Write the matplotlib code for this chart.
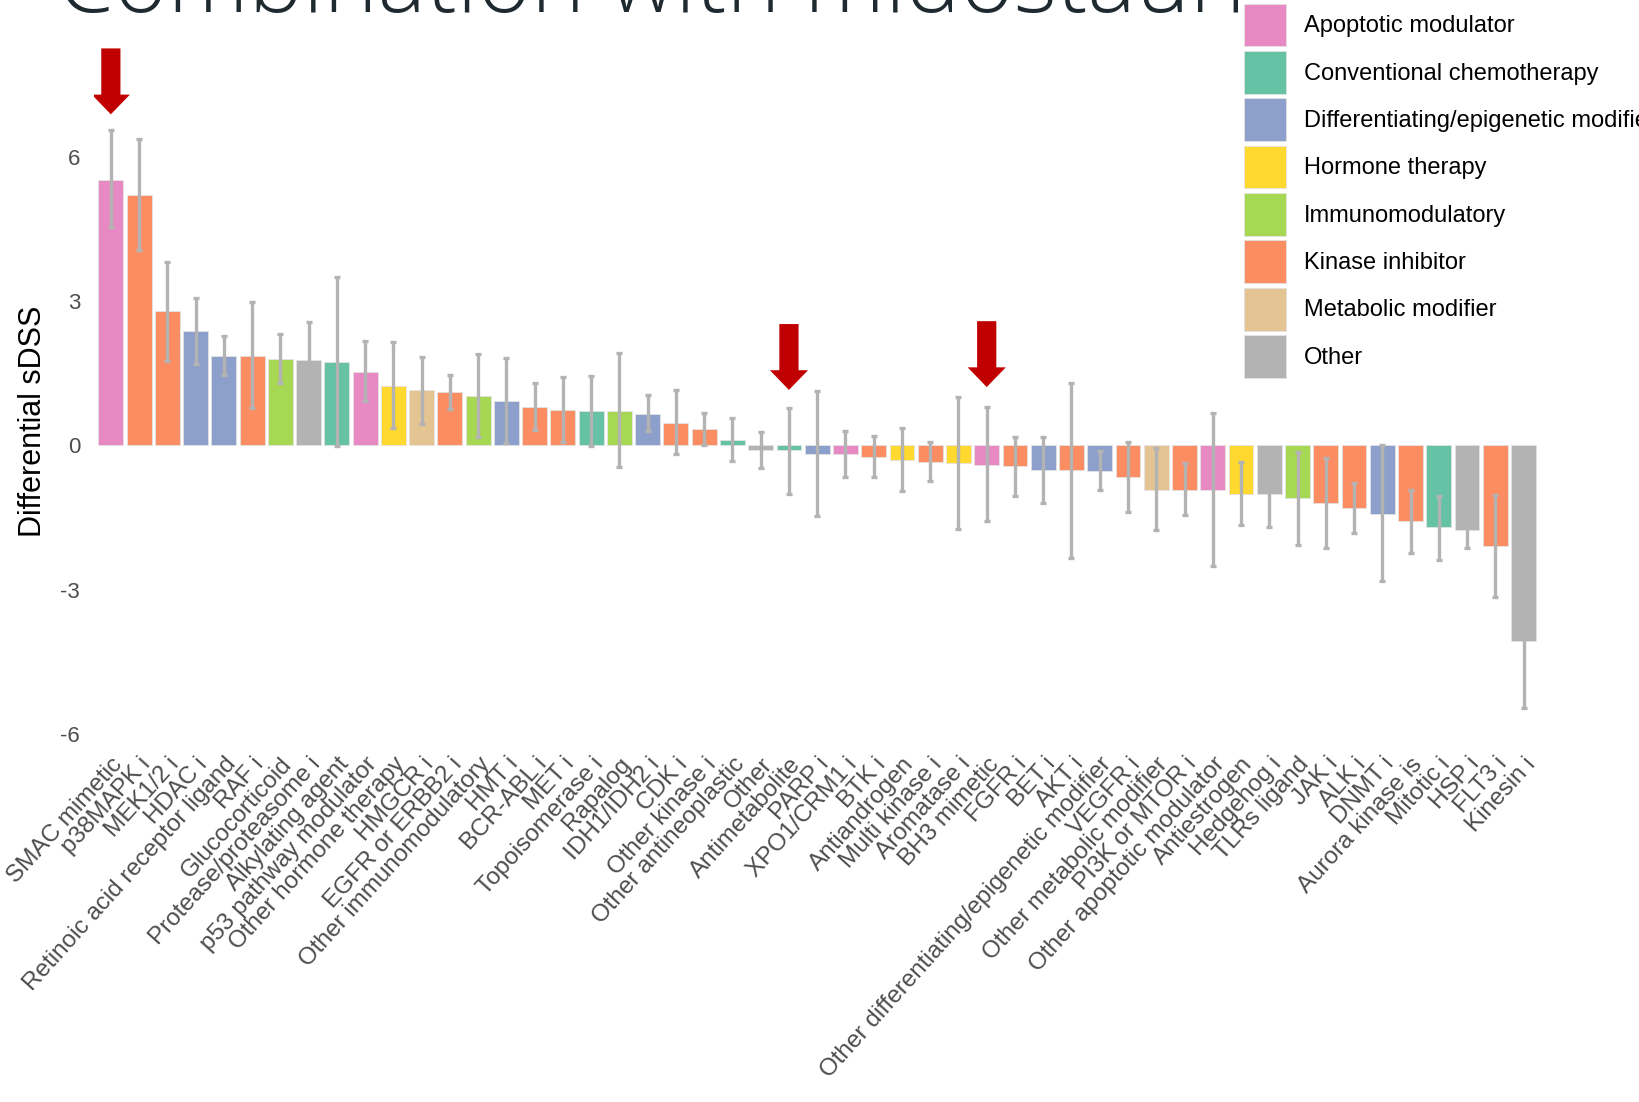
import numpy as np
import matplotlib
matplotlib.use("Agg")
import matplotlib.pyplot as plt
from matplotlib.patches import Patch, FancyArrow
from matplotlib.transforms import ScaledTranslation

# Drug classes, ordered by differential sDSS
drug_classes = [
    "SMAC mimetic", "p38MAPK i", "MEK1/2 i", "HDAC i", "Retinoic acid receptor ligand",
    "RAF i", "Glucocorticoid", "Protease/proteasome i", "Alkylating agent",
    "p53 pathway modulator", "Other hormone therapy", "HMGCR i", "EGFR or ERBB2 i",
    "Other immunomodulatory", "HMT i", "BCR-ABL i", "MET i", "Topoisomerase i", "Rapalog",
    "IDH1/IDH2 i", "CDK i", "Other kinase i", "Other antineoplastic", "Other",
    "Antimetabolite", "PARP i", "XPO1/CRM1 i", "BTK i", "Antiandrogen", "Multi kinase i",
    "Aromatase i", "BH3 mimetic", "FGFR i", "BET i", "AKT i",
    "Other differentiating/epigenetic modifier", "VEGFR i", "Other metabolic modifier",
    "PI3K or MTOR i", "Other apoptotic modulator", "Antiestrogen", "Hedgehog i",
    "TLRs ligand", "JAK i", "ALK i", "DNMT i", "Aurora kinase is", "Mitotic i", "HSP i",
    "FLT3 i", "Kinesin i",
]

mean_dss = [
    5.52, 5.21, 2.79, 2.38, 1.86, 1.86, 1.79, 1.77, 1.74, 1.52,
    1.24, 1.14, 1.10, 1.02, 0.92, 0.79, 0.73, 0.71, 0.71, 0.65,
    0.46, 0.33, 0.11, -0.10, -0.09, -0.18, -0.18, -0.24, -0.31, -0.35,
    -0.37, -0.40, -0.44, -0.52, -0.52, -0.53, -0.67, -0.92, -0.92, -0.92,
    -1.01, -1.02, -1.10, -1.19, -1.31, -1.42, -1.58, -1.70, -1.77, -2.09,
    -4.07,
]

err_low = [
    4.54, 4.05, 1.76, 1.68, 1.46, 0.77, 1.30, 0.98, -0.02, 0.91,
    0.35, 0.44, 0.75, 0.17, 0.05, 0.32, 0.07, -0.01, -0.45, 0.30,
    -0.19, 0.00, -0.33, -0.48, -1.01, -1.48, -0.65, -0.65, -0.96, -0.75,
    -1.74, -1.57, -1.05, -1.19, -2.34, -0.94, -1.39, -1.77, -1.46, -2.51,
    -1.65, -1.70, -2.07, -2.14, -1.83, -2.82, -2.24, -2.38, -2.13, -3.15,
    -5.47,
]

err_high = [
    6.55, 6.37, 3.82, 3.07, 2.28, 2.97, 2.31, 2.56, 3.50, 2.17,
    2.14, 1.84, 1.46, 1.90, 1.81, 1.29, 1.42, 1.43, 1.91, 1.04,
    1.14, 0.67, 0.56, 0.28, 0.78, 1.13, 0.29, 0.19, 0.36, 0.06,
    1.00, 0.80, 0.18, 0.18, 1.30, -0.12, 0.06, -0.05, -0.37, 0.68,
    -0.35, -0.34, -0.13, -0.26, -0.79, 0.00, -0.93, -1.05, -1.41, -1.04,
    -2.67,
]

mechanism = [
    "Apoptotic modulator", "Kinase inhibitor", "Kinase inhibitor",
    "Differentiating/epigenetic modifier", "Differentiating/epigenetic modifier",
    "Kinase inhibitor", "Immunomodulatory", "Other", "Conventional chemotherapy",
    "Apoptotic modulator", "Hormone therapy", "Metabolic modifier", "Kinase inhibitor",
    "Immunomodulatory", "Differentiating/epigenetic modifier", "Kinase inhibitor",
    "Kinase inhibitor", "Conventional chemotherapy", "Immunomodulatory",
    "Differentiating/epigenetic modifier", "Kinase inhibitor", "Kinase inhibitor",
    "Conventional chemotherapy", "Other", "Conventional chemotherapy",
    "Differentiating/epigenetic modifier", "Apoptotic modulator", "Kinase inhibitor",
    "Hormone therapy", "Kinase inhibitor", "Hormone therapy", "Apoptotic modulator",
    "Kinase inhibitor", "Differentiating/epigenetic modifier", "Kinase inhibitor",
    "Differentiating/epigenetic modifier", "Kinase inhibitor", "Metabolic modifier",
    "Kinase inhibitor", "Apoptotic modulator", "Hormone therapy", "Other",
    "Immunomodulatory", "Kinase inhibitor", "Kinase inhibitor",
    "Differentiating/epigenetic modifier", "Kinase inhibitor", "Conventional chemotherapy",
    "Other", "Kinase inhibitor", "Other",
]

mechanism_colors = {
    "Apoptotic modulator": "#E78AC3",
    "Conventional chemotherapy": "#66C2A5",
    "Differentiating/epigenetic modifier": "#8DA0CB",
    "Hormone therapy": "#FFD92F",
    "Immunomodulatory": "#A6D854",
    "Kinase inhibitor": "#FC8D62",
    "Metabolic modifier": "#E5C494",
    "Other": "#B3B3B3",
}

# highlighted classes: arrow tip and tail in sDSS units
highlight = ["SMAC mimetic", "Antimetabolite", "BH3 mimetic"]
arrow_tip = [6.88, 1.15, 1.21]
arrow_tail = [8.25, 2.52, 2.58]

W, H = 1639, 1102
fig = plt.figure(figsize=(W / 100, H / 100), dpi=100)
fig.patch.set_facecolor("white")

# panel placed in pixel units
left_px, right_px, top_px, bottom_px = 93.9, 1540.5, 36.4, 743.5
ax = fig.add_axes([left_px / W, 1 - bottom_px / H,
                   (right_px - left_px) / W, (bottom_px - top_px) / H])

x = np.arange(len(drug_classes))
colors = [mechanism_colors[m] for m in mechanism]
mean = np.array(mean_dss)
lo = np.array(err_low)
hi = np.array(err_high)

ax.bar(x, mean, width=0.88, color=colors, edgecolor="#e3e3e3", linewidth=0.6, zorder=2)
ax.errorbar(x, mean, yerr=[mean - lo, hi - mean], fmt="none", ecolor="#b3b3b3",
            elinewidth=2.4, capsize=2.0, capthick=2.4, zorder=3)

for name, tip, tail in zip(highlight, arrow_tip, arrow_tail):
    xi = drug_classes.index(name)
    ax.add_patch(FancyArrow(xi, tail, 0, tip - tail, width=0.68, head_width=1.35,
                            head_length=0.41, length_includes_head=True,
                            color="#C00000", linewidth=0, zorder=4))

ax.set_xlim(-0.6, len(drug_classes) - 0.4)
ax.set_ylim(-6.2, 8.5)
ax.set_yticks([-6, -3, 0, 3, 6])
ax.set_yticklabels(["-6", "-3", "0", "3", "6"])
ax.set_xticks(x)
ax.set_xticklabels(drug_classes, rotation=48, ha="right", va="top",
                   rotation_mode="anchor", fontsize=17.5, color="#4d4d4d",
                   family="Liberation Sans")
shift = ScaledTranslation(22 / 100, 0, fig.dpi_scale_trans)
for lab in ax.get_xticklabels():
    lab.set_transform(lab.get_transform() + shift)

ax.tick_params(axis="both", length=0)
ax.tick_params(axis="x", pad=7)
ax.tick_params(axis="y", pad=10, labelsize=16, labelcolor="#4d4d4d")
for lab in ax.get_yticklabels():
    lab.set_family("Liberation Sans")
for s in ax.spines.values():
    s.set_visible(False)
ax.grid(False)

ax.set_ylabel("Differential sDSS", fontsize=22, family="Liberation Sans",
              color="black", va="center")
ax.yaxis.set_label_coords(-0.042, 0.456)

fig.text(57 / W, 1 - 12 / H, "Combination with midostaurin", fontsize=66,
         family="Open Sans", fontweight="light", color="#1f2a30",
         ha="left", va="baseline")

handles = [Patch(facecolor=c, edgecolor="#e3e3e3", linewidth=0.6)
           for c in mechanism_colors.values()]
leg = fig.legend(handles, list(mechanism_colors.keys()), loc="upper left",
                 bbox_to_anchor=(1240 / W, 1 - 0 / H), frameon=True,
                 prop={"family": "Liberation Sans", "size": 17},
                 handlelength=1.81, handleheight=2.41, labelspacing=0.195,
                 handletextpad=0.76, borderpad=0.15, borderaxespad=0)
leg.get_frame().set_facecolor("white")
leg.get_frame().set_edgecolor("none")
leg.get_frame().set_alpha(1)
leg.get_frame().set_boxstyle("square", pad=0)

fig.savefig("out.png", dpi=100)
